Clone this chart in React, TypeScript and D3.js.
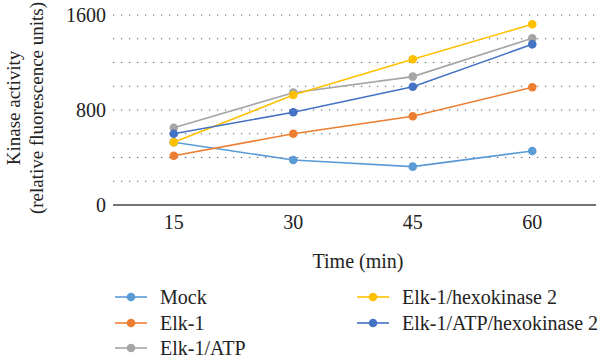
import React from "react";
import * as d3 from "d3";

const categories = ["15", "30", "45", "60"];
const seriesNames = ["Mock", "Elk-1", "Elk-1/ATP", "Elk-1/hexokinase 2", "Elk-1/ATP/hexokinase 2"];
const mock = [528, 379, 323, 455];
const elk1 = [415, 600, 747, 991];
const elk1Atp = [651, 946, 1081, 1404];
const elk1Hk2 = [528, 926, 1227, 1522];
const elk1AtpHk2 = [600, 781, 996, 1353];
const yTicks = [0, 800, 1600];
const gridValues = [200, 400, 600, 800, 1000, 1200, 1400, 1600];
const colors = ["#5B9BD5", "#ED7D31", "#A5A5A5", "#FFC000", "#4472C4"];

const allSeries = [mock, elk1, elk1Atp, elk1Hk2, elk1AtpHk2];
const FONT = '"Liberation Serif"';

export default function App() {
  const W = 600, H = 361;
  const x = d3.scaleBand().domain(categories).range([114, 592]).padding(0);
  const cx = (c: string) => (x(c) as number) + x.bandwidth() / 2;
  const y = d3.scaleLinear().domain([0, 1600]).range([205, 15]);
  const line = d3.line<number>().x((_, i) => cx(categories[i])).y((d) => y(d));
  const axisLeft = 113, axisRight = 596;

  const legendPos = [
    { x: 115, y: 297 },
    { x: 115, y: 323 },
    { x: 115, y: 348 },
    { x: 357, y: 297 },
    { x: 357, y: 323 },
  ];
  const ts = { fontFamily: FONT, fontSize: 20 } as React.CSSProperties;
  const tsY = { fontFamily: FONT, fontSize: 19 } as React.CSSProperties;

  return (
    <svg width={W} height={H} style={{ position: "absolute", left: 0, top: 0, background: "#fff" }}>
      {gridValues.map((v) => (
        <line key={v} x1={axisLeft} x2={axisRight} y1={y(v)} y2={y(v)} stroke="#555" strokeWidth={1} strokeDasharray="1.2,6.8" />
      ))}
      <line x1={axisLeft} x2={axisRight} y1={y(0)} y2={y(0)} stroke="#444" strokeWidth={1.3} />
      {yTicks.map((v) => (
        <text key={v} x={106} y={y(v)} dy="0.35em" textAnchor="end" style={ts} fill="#222">{v}</text>
      ))}
      {categories.map((c) => (
        <text key={c} x={cx(c)} y={222} dy="0.35em" textAnchor="middle" style={ts} fill="#222">{c}</text>
      ))}
      <text x={358} y={261} dy="0.35em" textAnchor="middle" style={ts} fill="#222">Time (min)</text>
      <g transform="translate(13,108) rotate(-90)">
        <text x={0} y={0} dy="0.35em" textAnchor="middle" style={tsY} fill="#222">Kinase activity</text>
        <text x={0} y={23} dy="0.35em" textAnchor="middle" style={tsY} fill="#222">(relative fluorescence units)</text>
      </g>
      {allSeries.map((s, si) => (
        <g key={si}>
          <path d={line(s) as string} fill="none" stroke={colors[si]} strokeWidth={1.6} />
          {s.map((v, i) => (
            <circle key={i} cx={cx(categories[i])} cy={y(v)} r={4.3} fill={colors[si]} />
          ))}
        </g>
      ))}
      {seriesNames.map((n, i) => (
        <g key={n} transform={`translate(${legendPos[i].x},${legendPos[i].y})`}>
          <line x1={0} x2={32} y1={0} y2={0} stroke={colors[i]} strokeWidth={1.6} />
          <circle cx={16} cy={0} r={4.3} fill={colors[i]} />
          <text x={45} y={0} dy="0.35em" style={ts} fill="#222">{n}</text>
        </g>
      ))}
    </svg>
  );
}
